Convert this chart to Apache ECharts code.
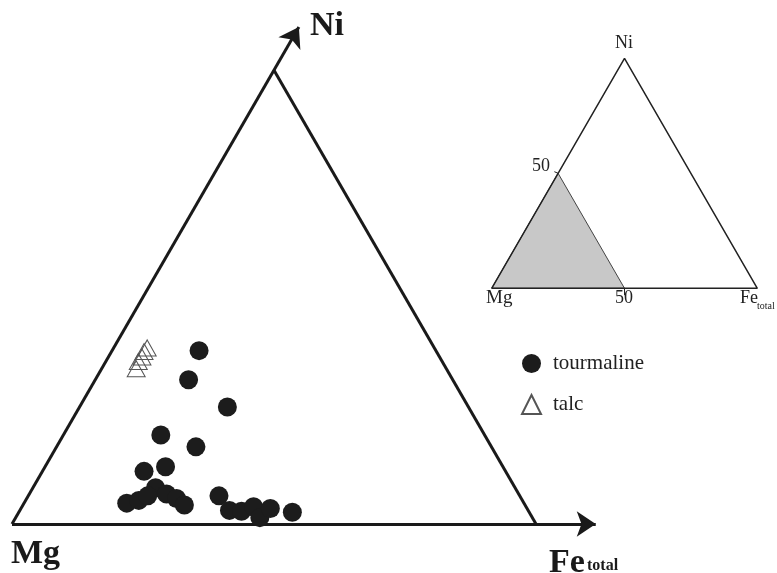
<!DOCTYPE html>
<html>
<head>
<meta charset="utf-8">
<script src="https://cdn.jsdelivr.net/npm/echarts@6/dist/echarts.min.js"></script>
<style>html,body{margin:0;padding:0;background:#fff}#c{width:777px;height:573px}</style>
</head>
<body>
<div id="c"></div>
<script>
// Ternary compositions (percent); Mg is the remainder 100 - Ni - Fe
const tourmalineNi = [19.1, 15.9, 12.9, 9.8, 8.5, 5.8, 6.3, 4.0, 2.3, 2.6, 3.1, 3.3, 2.8, 2.1, 3.1, 1.5, 1.4, 1.9, 0.7, 1.7, 1.3];
const tourmalineFe = [8.3, 8.9, 14.1, 9.3, 13.3, 9.7, 11.5, 11.7, 9.8, 10.8, 11.4, 13.1, 14.3, 15.4, 18.2, 20.0, 21.2, 22.1, 23.3, 23.8, 26.1];
const talcNi = [17.1, 17.9, 18.4, 19.0, 19.4];
const talcFe = [3.3, 3.1, 3.2, 3.1, 3.2];
const seriesNames = ['tourmaline', 'talc'];
const zoomLimit = 50;      // big diagram shows Mg-rich corner up to 50 % Ni / Fe
const insetMark = '50';

const S3 = Math.sqrt(3) / 2;
function tern(ni, fe) { return [fe + ni / 2, ni * S3]; }

const tourPts = tourmalineNi.map((n, i) => tern(n, tourmalineFe[i]));
const talcPts = talcNi.map((n, i) => tern(n, talcFe[i]));

const PX = 10.48; // px per unit in big diagram
const ink = '#1a1a1a';
const serif = '"Liberation Serif", "Times New Roman", serif';

const chart = echarts.init(document.getElementById('c'), null, { renderer: 'canvas' });
const hidden = { show: false };
chart.setOption({
  animation: false,
  backgroundColor: '#fff',
  grid: [
    { left: 0, top: 0, width: 777, height: 573 },
    { left: 478.4, top: 45.0, width: 292.2, height: 256.58 }
  ],
  xAxis: [
    { type: 'value', gridIndex: 0, min: -12 / PX, max: 765 / PX, show: false, splitLine: hidden },
    { type: 'value', gridIndex: 1, min: -5, max: 105, show: false, splitLine: hidden }
  ],
  yAxis: [
    { type: 'value', gridIndex: 0, min: -49 / PX, max: 524 / PX, show: false, splitLine: hidden },
    { type: 'value', gridIndex: 1, min: -5, max: 91.6, show: false, splitLine: hidden }
  ],
  legend: {
    orient: 'vertical', left: 516, top: 348, itemWidth: 19, itemHeight: 19, itemGap: 20,
    selectedMode: false,
    textStyle: { fontFamily: serif, fontSize: 21, color: '#222', padding: [0, 0, 0, 7] },
    data: [
      { name: seriesNames[0], icon: 'circle' },
      { name: seriesNames[1], icon: 'triangle' }
    ]
  },
  series: [
    {
      type: 'lines', coordinateSystem: 'cartesian2d', xAxisIndex: 0, yAxisIndex: 0, z: 3,
      symbol: ['none', 'arrow'], symbolSize: 19,
      lineStyle: { color: ink, width: 3, opacity: 1, curveness: 0 },
      data: [
        { coords: [tern(0, 0), tern(0, zoomLimit * 1.114)] },
        { coords: [tern(0, 0), tern(zoomLimit * 1.095, 0)] }
      ]
    },
    {
      type: 'line', xAxisIndex: 0, yAxisIndex: 0, showSymbol: false, z: 3,
      lineStyle: { color: ink, width: 3 },
      data: [tern(0, zoomLimit), tern(zoomLimit, 0)]
    },
    {
      name: seriesNames[0], type: 'scatter', xAxisIndex: 0, yAxisIndex: 0, z: 4,
      symbol: 'circle', symbolSize: 19,
      itemStyle: { color: '#1c1c1c', opacity: 1 },
      data: tourPts
    },
    {
      name: seriesNames[1], type: 'scatter', xAxisIndex: 0, yAxisIndex: 0, z: 4,
      symbol: 'triangle', symbolSize: [18, 16],
      itemStyle: { color: 'rgba(255,255,255,0)', borderColor: '#555', borderWidth: 1, opacity: 1 },
      data: talcPts
    },
    {
      type: 'custom', xAxisIndex: 1, yAxisIndex: 1, z: 2,
      data: [[0, 0]],
      renderItem: function (params, api) {
        const pts = [tern(0, 0), tern(0, zoomLimit), tern(zoomLimit, 0)].map(p => api.coord(p));
        return { type: 'polygon', shape: { points: pts }, style: { fill: '#c8c8c8', stroke: '#444', lineWidth: 1 } };
      }
    },
    {
      type: 'line', xAxisIndex: 1, yAxisIndex: 1, showSymbol: false, z: 3,
      lineStyle: { color: '#222', width: 1.5 },
      data: [tern(0, 0), tern(0, 100), tern(100, 0), tern(0, 0)]
    },
    {
      type: 'lines', coordinateSystem: 'cartesian2d', xAxisIndex: 1, yAxisIndex: 1, z: 3,
      symbol: 'none',
      lineStyle: { color: '#222', width: 1, opacity: 1 },
      data: [
        { coords: [tern(0, 50), [50, -2.6]] },
        { coords: [tern(50, 0), [23.6, 43.9]] }
      ]
    }
  ],
  graphic: [
    { type: 'text', left: 310, top: 9, style: { text: 'Ni', font: 'bold 34px ' + serif, fill: ink } },
    { type: 'text', left: 11, top: 537, style: { text: 'Mg', font: 'bold 34px ' + serif, fill: ink } },
    { type: 'text', left: 549, top: 546, style: { text: 'Fe', font: 'bold 34px ' + serif, fill: ink } },
    { type: 'text', left: 587, top: 558, style: { text: 'total', font: 'bold 16px ' + serif, fill: ink } },
    { type: 'text', left: 615, top: 34, style: { text: 'Ni', font: '18px ' + serif, fill: '#222' } },
    { type: 'text', left: 532, top: 157, style: { text: insetMark, font: '18px ' + serif, fill: '#222' } },
    { type: 'text', left: 486, top: 289, style: { text: 'Mg', font: '19px ' + serif, fill: '#222' } },
    { type: 'text', left: 615, top: 289, style: { text: insetMark, font: '18px ' + serif, fill: '#222' } },
    { type: 'text', left: 740, top: 289, style: { text: 'Fe', font: '18px ' + serif, fill: '#222' } },
    { type: 'text', left: 757, top: 301, style: { text: 'total', font: '10px ' + serif, fill: '#222' } }
  ]
});
</script>
</body>
</html>
